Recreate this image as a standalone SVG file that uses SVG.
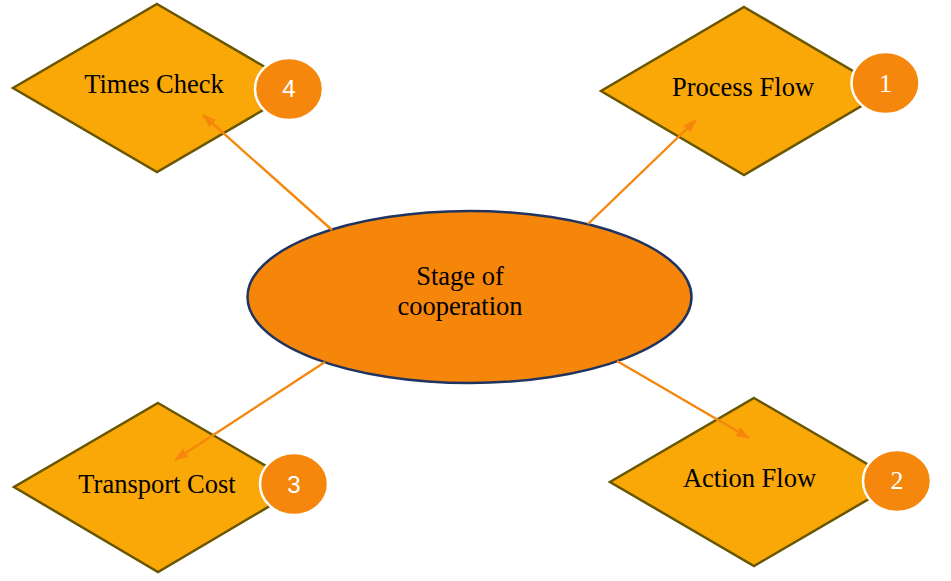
<svg xmlns="http://www.w3.org/2000/svg" width="951" height="581" viewBox="0 0 951 581">
<style>
.dia{fill:#F9A808;stroke:#6B5600;stroke-width:2.5}
.badge{fill:#F5870C;stroke:#FFFFFF;stroke-width:2.5}
.lbl{font-family:"Liberation Serif","Times New Roman",serif;font-size:26.5px;fill:#000;text-anchor:middle}
.num{fill:#FFFFFF;text-anchor:middle}
.sans{font-family:"Liberation Sans",Arial,sans-serif;font-size:24px}
.serif{font-family:"Liberation Serif","Times New Roman",serif;font-size:26px}
.conn{stroke:#F5870C;stroke-width:2.4;fill:none;marker-end:url(#ah)}
</style>
<defs>
<marker id="ah" viewBox="0 0 14 10" refX="13" refY="5" markerWidth="14" markerHeight="10" markerUnits="userSpaceOnUse" orient="auto">
<path d="M0,0 L14,5 L0,10 Z" fill="#F5870C"/>
</marker>
</defs>
<rect width="951" height="581" fill="#FFFFFF"/>
<g id="center">
<ellipse cx="469.5" cy="297" rx="222" ry="86" fill="#F6860A" stroke="#1F3461" stroke-width="2.5"/>
<text class="lbl" x="460" y="285">Stage of</text>
<text class="lbl" x="460" y="315">cooperation</text>
</g>
<g id="times-check">
<polygon class="dia" points="157,4 301,88 157,172 13,88"/>
<text class="lbl" x="154" y="93">Times Check</text>
<ellipse class="badge" cx="289" cy="89" rx="34" ry="31"/>
<text class="num sans" x="289" y="97">4</text>
</g>
<g id="process-flow">
<polygon class="dia" points="744,7 887,91 744,175 601,91"/>
<text class="lbl" x="743" y="96">Process Flow</text>
<ellipse class="badge" cx="885.5" cy="83" rx="34" ry="31"/>
<text class="num serif" x="885.5" y="92">1</text>
</g>
<g id="transport-cost">
<polygon class="dia" points="158,403 302,487 158,572 14,487"/>
<text class="lbl" x="157" y="493">Transport Cost</text>
<ellipse class="badge" cx="294" cy="484" rx="34" ry="31"/>
<text class="num sans" x="294" y="493">3</text>
</g>
<g id="action-flow">
<polygon class="dia" points="754,398 898,482 754,566 610,482"/>
<text class="lbl" x="749.5" y="487">Action Flow</text>
<ellipse class="badge" cx="897" cy="481" rx="34" ry="31"/>
<text class="num serif" x="897" y="489">2</text>
</g>
<g id="connectors">
<line class="conn" x1="588" y1="224" x2="696" y2="120"/>
<line class="conn" x1="332" y1="230" x2="203" y2="115"/>
<line class="conn" x1="325" y1="362" x2="175" y2="460"/>
<line class="conn" x1="617" y1="361" x2="749" y2="438"/>
</g>
</svg>
